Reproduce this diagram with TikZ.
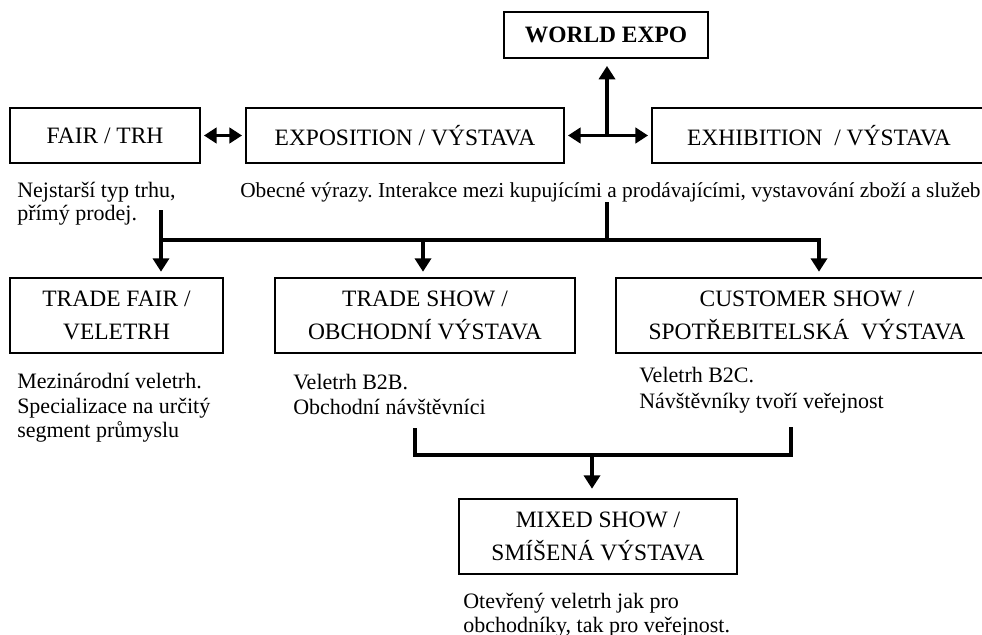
\documentclass[tikz,border=0pt]{standalone}
\usepackage{fontspec}
\setmainfont{Liberation Serif}
\usetikzlibrary{arrows.meta,calc}
\frenchspacing
\begin{document}
\begin{tikzpicture}[x=0.75pt,y=-0.75pt,
  box/.style={draw, line width=1.9pt, inner sep=0pt, align=center, font=\fontsize{17.6}{24.75}\selectfont},
  desc/.style={anchor=base west, inner sep=0pt, font=\fontsize{16.5}{18}\selectfont},
  conn/.style={line width=2.6pt},
  tip/.style={-{Triangle[length=10pt,width=12pt]}},
  dtip/.style={{Triangle[length=9.5pt,width=11.5pt]}-{Triangle[length=9.5pt,width=11.5pt]}}]
\useasboundingbox (0,0) rectangle (982,635);
\clip (0,0) rectangle (982,635);
% boxes
\node[box, minimum width=153pt, minimum height=34.5pt, font=\fontsize{17.6}{24.75}\selectfont\bfseries] (world) at (606,35) {WORLD EXPO};
\node[box, minimum width=142.5pt, minimum height=41.25pt] (fair) at (105,135.5) {FAIR / TRH};
\node[box, minimum width=238.5pt, minimum height=41.25pt] (expo) at (405,135.5) {EXPOSITION / VÝSTAVA};
\node[box, minimum width=250.5pt, minimum height=41.25pt] (exhib) at (819,135.5) {EXHIBITION \ / VÝSTAVA};
\node[box, minimum width=159.75pt, minimum height=56.25pt] (tfair) at (116.5,315.5) {TRADE FAIR /\\VELETRH};
\node[box, minimum width=225pt, minimum height=56.25pt] (tshow) at (425,315.5) {TRADE SHOW /\\OBCHODNÍ VÝSTAVA};
\node[box, minimum width=286.5pt, minimum height=56.25pt] (cshow) at (807,315.5) {CUSTOMER SHOW /\\SPOTŘEBITELSKÁ \ VÝSTAVA};
\node[box, minimum width=208.5pt, minimum height=56.25pt] (mixed) at (598,536.5) {MIXED SHOW /\\SMÍŠENÁ VÝSTAVA};
% descriptions
\node[desc] (d1a) at (17,197) {Nejstarší typ trhu,};
\node[desc] (d1b) at (17,220) {přímý prodej.};
\node[desc, font=\fontsize{16}{18}\selectfont] (d2) at (240,197) {Obecné výrazy. Interakce mezi kupujícími a prodávajícími, vystavování zboží a služeb};
\node[desc] (d3a) at (17,388) {Mezinárodní veletrh.};
\node[desc] (d3b) at (17,413) {Specializace na určitý};
\node[desc] (d3c) at (17,437) {segment průmyslu};
\node[desc] (d4a) at (293,389) {Veletrh B2B.};
\node[desc] (d4b) at (293,414) {Obchodní návštěvníci};
\node[desc] (d5a) at (639,382) {Veletrh B2C.};
\node[desc] (d5b) at (639,408) {Návštěvníky tvoří veřejnost};
\node[desc] (d6a) at (463,608) {Otevřený veletrh jak pro};
\node[desc] (d6b) at (463,632) {obchodníky, tak pro veřejnost.};
% top connectors
\draw[conn,dtip] ([xshift=2pt]fair.east) -- ([xshift=-2pt]expo.west);
\draw[conn,dtip] ([xshift=2pt]expo.east) -- ([xshift=-2pt]exhib.west);
\coordinate (hub) at (607,135.5);
\draw[conn,tip] (hub) -- ([yshift=-5pt]world.south -| hub);
% distribution tree
\coordinate (split) at (607,204);
\coordinate (bus) at (607,240);
\coordinate (busL) at (161,240);
\coordinate (busM) at (423,240);
\coordinate (busR) at (819,240);
\coordinate (stubL) at (161,210);
\draw[conn,line cap=rect] (split) -- (bus);
\draw[conn,line cap=rect] (busL) -- (busR);
\draw[conn,tip] (stubL) -- ([yshift=3.75pt]tfair.north -| stubL);
\draw[conn,tip] (busM) -- ([yshift=3.75pt]tshow.north -| busM);
\draw[conn,tip] (busR) -- ([yshift=3.75pt]cshow.north -| busR);
% merge bracket
\coordinate (bL) at (415,428);
\coordinate (bR) at (791,427);
\coordinate (mj) at (592,455);
\draw[conn,line join=miter] (bL) -- (bL |- mj) -- (bR |- mj) -- (bR);
\draw[conn,tip] (mj) -- ([yshift=6.75pt]mixed.north -| mj);
\end{tikzpicture}
\end{document}
